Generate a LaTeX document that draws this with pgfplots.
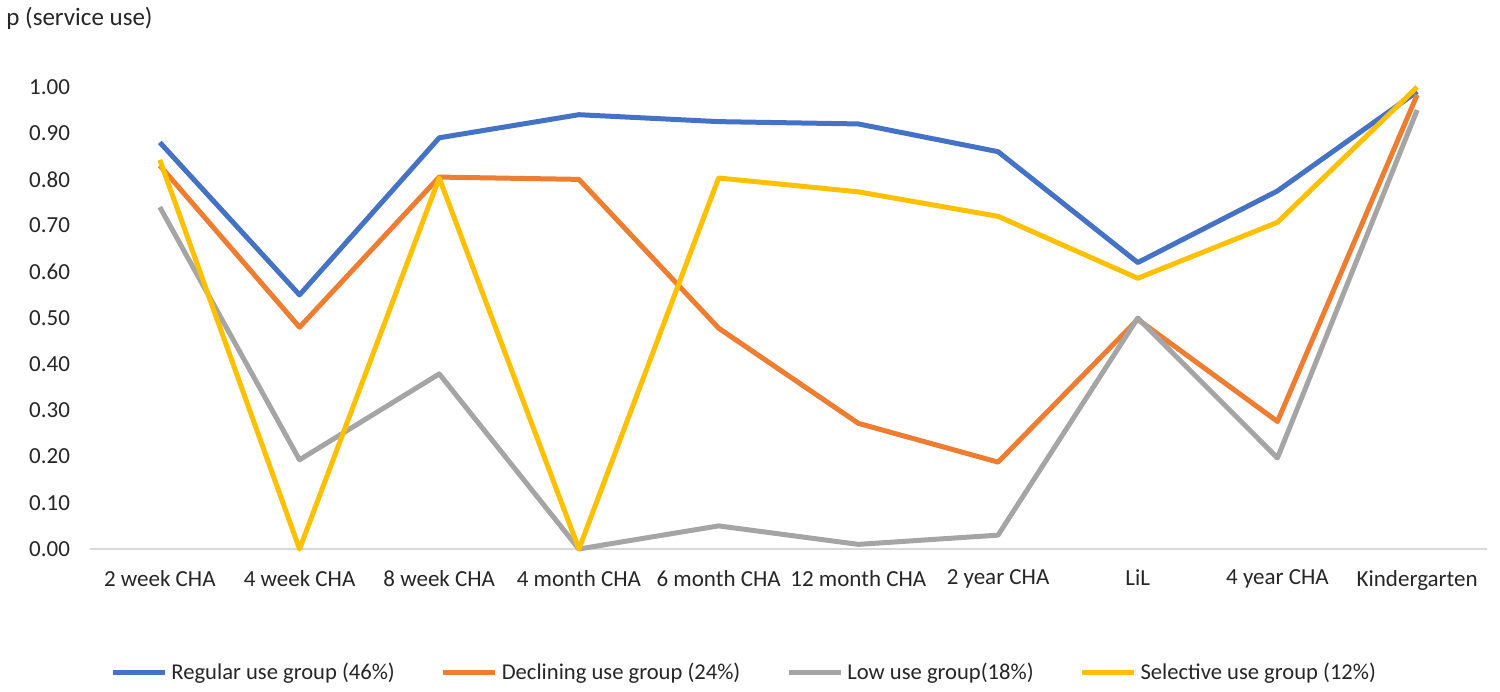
\documentclass[border=0pt]{standalone}
\usepackage{pgfplots}
\pgfplotsset{compat=1.18}
\usepackage{fontspec}
\setmainfont{Carlito}
\definecolor{cblue}{HTML}{4472C4}
\definecolor{corange}{HTML}{ED7D31}
\definecolor{cgray}{HTML}{A5A5A5}
\definecolor{cyellow}{HTML}{FFC000}
\definecolor{caxis}{HTML}{D9D9D9}
\definecolor{ctext}{HTML}{262626}
\begin{document}
\fontsize{11.5}{13}\selectfont
\begin{tikzpicture}
\begin{axis}[
  scale only axis,
  width=698.5pt, height=231pt,
  xmin=-0.5, xmax=9.5, ymin=0, ymax=1,
  clip=false,
  axis x line*=bottom, axis y line*=left,
  x axis line style={draw=caxis, line width=0.75pt},
  y axis line style={draw=none},
  xtick={0,...,9},
  xticklabels={2 week CHA,4 week CHA,8 week CHA,4 month CHA,6 month CHA,12 month CHA,2 year CHA,LiL,4 year CHA,Kindergarten},
  xtick style={draw=none},
  extra x ticks={-0.5,0.5,1.5,2.5,3.5,4.5,5.5,6.5,7.5,8.5,9.5},
  extra x tick labels={},
  extra x tick style={tick style={draw=caxis, line width=0.75pt}, major tick length=5pt, tick align=outside},
  ytick={0,0.1,...,1.0},
  ytick style={draw=none},
  /pgf/number format/fixed,
  /pgf/number format/fixed zerofill,
  /pgf/number format/precision=2,
  /pgf/number format/assume math mode=true,
  xticklabel style={font=\fontsize{11.5}{13}\selectfont, text=ctext, yshift=-6.5pt},
  yticklabel style={font=\fontsize{11.5}{13}\selectfont, text=ctext, xshift=-6pt},
  legend style={at={(rel axis cs:0.469,-0.268)}, anchor=center, draw=none, fill=none,
    font=\fontsize{11.3}{13}\selectfont, text=ctext,
    /tikz/every even column/.append style={column sep=21pt}},
  legend columns=4,
  legend cell align=left,
  legend image code/.code={\draw[#1, line width=2.5pt] (0pt,0pt) -- (26pt,0pt);},
  every axis plot/.append style={line width=2.5pt, line join=round, no markers},
]
\addplot[cblue] coordinates {(0,0.88) (1,0.55) (2,0.89) (3,0.94) (4,0.925) (5,0.92) (6,0.86) (7,0.62) (8,0.775) (9,0.99)};
\addlegendentry{Regular use group (46\%)}
\addplot[corange] coordinates {(0,0.83) (1,0.48) (2,0.805) (3,0.80) (4,0.478) (5,0.272) (6,0.188) (7,0.497) (8,0.276) (9,0.983)};
\addlegendentry{Declining use group (24\%)}
\addplot[cgray] coordinates {(0,0.74) (1,0.193) (2,0.379) (3,0.0) (4,0.05) (5,0.01) (6,0.03) (7,0.50) (8,0.197) (9,0.95)};
\addlegendentry{Low use group(18\%)}
\addplot[cyellow] coordinates {(0,0.842) (1,0.0) (2,0.803) (3,0.0) (4,0.803) (5,0.773) (6,0.72) (7,0.586) (8,0.707) (9,1.00)};
\addlegendentry{Selective use group (12\%)}
\node[anchor=west, inner sep=0pt, text=ctext, font=\fontsize{12.5}{14}\selectfont] at (rel axis cs:-0.0601,1.149) {p (service use)};
\path (rel axis cs:-0.0644,-0.3074) rectangle (rel axis cs:1.0093,1.1883);
\end{axis}
\end{tikzpicture}
\end{document}
